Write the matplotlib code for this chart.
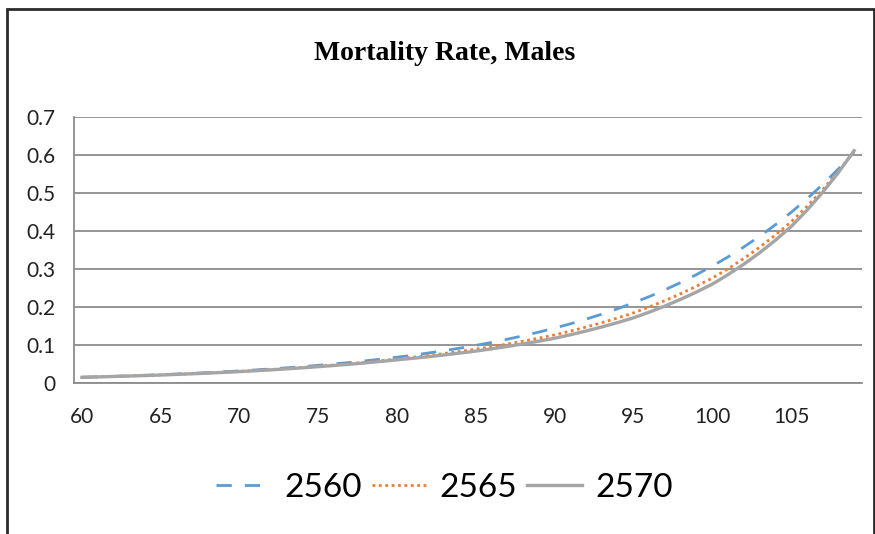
import matplotlib
matplotlib.use("Agg")
import matplotlib.pyplot as plt
from matplotlib.patches import Rectangle

ages = list(range(60, 110))

rate_2560 = [0.0150, 0.0162, 0.0174, 0.0188, 0.0203, 0.0219, 0.0236, 0.0254, 0.0274, 0.0296,
             0.0319, 0.0344, 0.0371, 0.0400, 0.0431, 0.0465, 0.0502, 0.0541, 0.0584, 0.0630,
             0.0679, 0.0732, 0.0790, 0.0852, 0.0918, 0.0991, 0.1068, 0.1152, 0.1243, 0.1340,
             0.1445, 0.1559, 0.1681, 0.1813, 0.1955, 0.2109, 0.2274, 0.2453, 0.2645, 0.2853,
             0.3077, 0.3318, 0.3579, 0.3860, 0.4163, 0.4489, 0.4842, 0.5222, 0.5632, 0.6074]

rate_2565 = [0.0150, 0.0161, 0.0173, 0.0185, 0.0198, 0.0213, 0.0229, 0.0246, 0.0265, 0.0285,
             0.0306, 0.0329, 0.0354, 0.0381, 0.0410, 0.0442, 0.0475, 0.0510, 0.0548, 0.0589,
             0.0633, 0.0677, 0.0725, 0.0777, 0.0831, 0.0890, 0.0955, 0.1025, 0.1100, 0.1181,
             0.1267, 0.1366, 0.1473, 0.1588, 0.1712, 0.1846, 0.2001, 0.2168, 0.2350, 0.2547,
             0.2760, 0.3007, 0.3277, 0.3571, 0.3891, 0.4240, 0.4643, 0.5085, 0.5569, 0.6100]

rate_2570 = [0.0150, 0.0160, 0.0172, 0.0184, 0.0196, 0.0210, 0.0226, 0.0242, 0.0260, 0.0279,
             0.0300, 0.0322, 0.0346, 0.0372, 0.0400, 0.0430, 0.0461, 0.0494, 0.0530, 0.0569,
             0.0610, 0.0650, 0.0693, 0.0739, 0.0788, 0.0840, 0.0899, 0.0962, 0.1029, 0.1101,
             0.1178, 0.1270, 0.1369, 0.1476, 0.1591, 0.1715, 0.1864, 0.2026, 0.2203, 0.2394,
             0.2602, 0.2852, 0.3126, 0.3426, 0.3755, 0.4115, 0.4543, 0.5016, 0.5537, 0.6113]

xticks = list(range(60, 110, 5))
yticks = [0, 0.1, 0.2, 0.3, 0.4, 0.5, 0.6, 0.7]
ytick_labels = ["0", "0.1", "0.2", "0.3", "0.4", "0.5", "0.6", "0.7"]

fig = plt.figure(figsize=(8.75, 5.34), dpi=100)
ax = fig.add_axes([74 / 875, 1 - 383 / 534, (862 - 74) / 875, (383 - 117) / 534])

# outer chart border
fig.patches.append(Rectangle((0.008, -0.05), 0.991, 1.033, transform=fig.transFigure,
                             fill=False, edgecolor="#2b2b2b", linewidth=2))

ax.plot(ages, rate_2560, color="#5B9BD5", linewidth=2.0, dashes=(5.5, 4.7), label="2560")
ax.plot(ages, rate_2565, color="#ED7D31", linewidth=2.0, linestyle=(0, (1, 1.3)), label="2565")
ax.plot(ages, rate_2570, color="#A5A5A5", linewidth=2.4, label="2570")

ax.set_xlim(59.5, 109.5)
ax.set_ylim(0, 0.7)
ax.set_xticks(xticks)
ax.set_yticks(yticks)
ax.set_yticklabels(ytick_labels)
ax.yaxis.grid(True, color="#8c8c8c", linewidth=1.3)
ax.set_axisbelow(True)
for s in ["top", "right"]:
    ax.spines[s].set_visible(False)
ax.spines["left"].set_color("#8c8c8c")
ax.spines["bottom"].set_color("#8c8c8c")
ax.spines["left"].set_linewidth(1.3)
ax.spines["bottom"].set_linewidth(1.3)
ax.tick_params(axis="both", length=0, labelsize=15, labelcolor="#222222")
ax.tick_params(axis="y", pad=13)
ax.tick_params(axis="x", pad=17)
for lab in ax.get_xticklabels() + ax.get_yticklabels():
    lab.set_family("Lato")

fig.text(0.508, 1 - 54 / 534, "Mortality Rate, Males", ha="center", va="center",
         fontsize=20, fontweight="bold", family="Liberation Serif")

fig.legend(loc="center", bbox_to_anchor=(0.508, 1 - 488 / 534), ncol=3, frameon=False,
           prop={"family": "Lato", "size": 24}, handlelength=1.65, handletextpad=0.4,
           columnspacing=0.3)

fig.savefig("out.png", dpi=100)
